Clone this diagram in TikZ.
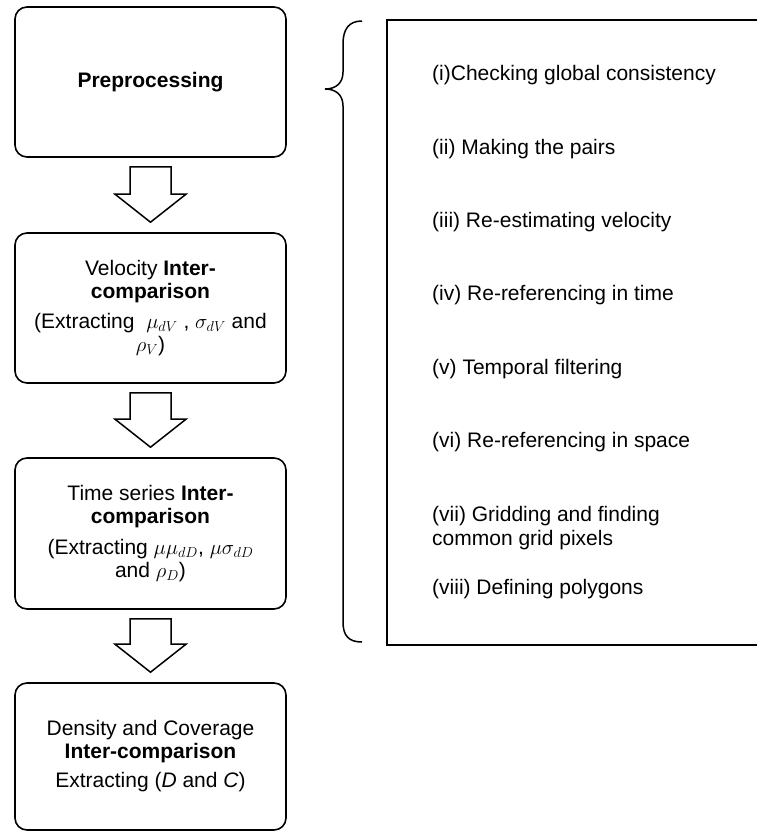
\documentclass[tikz,border=0pt]{standalone}
\usepackage{fontspec}
\setmainfont{Liberation Sans}
\usetikzlibrary{calc}
\begin{document}
\begin{tikzpicture}[x=1pt,y=-1pt,
  every node/.style={font=\fontsize{21}{22.5}\selectfont},
  stage/.style={draw,line width=1.6pt,rounded corners=12pt,minimum width=271pt,
    inner sep=0pt,align=center},
  item/.style={anchor=base west,inner sep=0pt,align=left},
  blockarrow/.style={draw,line width=1.5pt,fill=white,line join=miter},
  frame/.style={draw,line width=1.6pt},
  bracepath/.style={draw,line width=1.5pt}]
\useasboundingbox (0,0) rectangle (756,833);

\node[stage,minimum height=150pt] (b1) at (150.5,82) {\textbf{Preprocessing}};
\node[stage,minimum height=150pt] (b2) at (150.5,308) {Velocity \textbf{Inter-}\\\textbf{comparison}\\[8pt](Extracting \ $\mu_{dV}$ , $\sigma_{dV}$ and\\$\rho_V$)};
\node[stage,minimum height=151pt] (b3) at (150.5,533.5) {Time series \textbf{Inter-}\\\textbf{comparison}\\[9pt](Extracting $\mu\mu_{dD}$, $\mu\sigma_{dD}$\\and $\rho_D$)};
\node[stage,minimum height=147pt] (b4) at (150.5,756.5) {Density and Coverage\\\textbf{Inter-comparison}\\[7pt]Extracting (\textit{D} and \textit{C})};

% block arrows between stages
\foreach \a/\b in {b1/b2,b2/b3,b3/b4}{
  \path[blockarrow]
    ($(\a.south)+(-20.5,9)$) -- ($(\a.south)+(20.5,9)$)
    -- ($(\b.north)+(20.5,-38)$) -- ($(\b.north)+(35.5,-38)$)
    -- ($(\b.north)+(0,-10)$)
    -- ($(\b.north)+(-35.5,-38)$) -- ($(\b.north)+(-20.5,-38)$) -- cycle;
}

% right frame (open on the right, cut by the page edge)
\coordinate (ftr) at (760,20);
\coordinate (ftl) at (387,20);
\coordinate (fbl) at (387,645);
\coordinate (fbr) at (760,645);
\path[frame] (ftr) -- (ftl) -- (fbl) -- (fbr);

% brace
\coordinate (brtop) at (362,21);
\coordinate (brtip) at (325,89);
\coordinate (brbot) at (362,642);
\path[bracepath] (brtop) .. controls (349,21) and (343,29) .. (343,44)
  -- (343,72) .. controls (343,83) and (336,89) .. (brtip)
  .. controls (336,89) and (343,95) .. (343,106)
  -- (343,622) .. controls (343,636) and (349,642) .. (brbot);

% list items
\node[item] (s1) at (432,80) {(i)Checking global consistency};
\node[item] (s2) at (432,154) {(ii) Making the pairs};
\node[item] (s3) at (432,227) {(iii) Re-estimating velocity};
\node[item] (s4) at (432,300) {(iv) Re-referencing in time};
\node[item] (s5) at (432,374) {(v) Temporal filtering};
\node[item] (s6) at (432,447) {(vi) Re-referencing in space};
\node[item] (s7) at (432,545) {(vii) Gridding and finding\\[1.5pt]common grid pixels};
\node[item] (s8) at (432,594) {(viii) Defining polygons};
\end{tikzpicture}
\end{document}
